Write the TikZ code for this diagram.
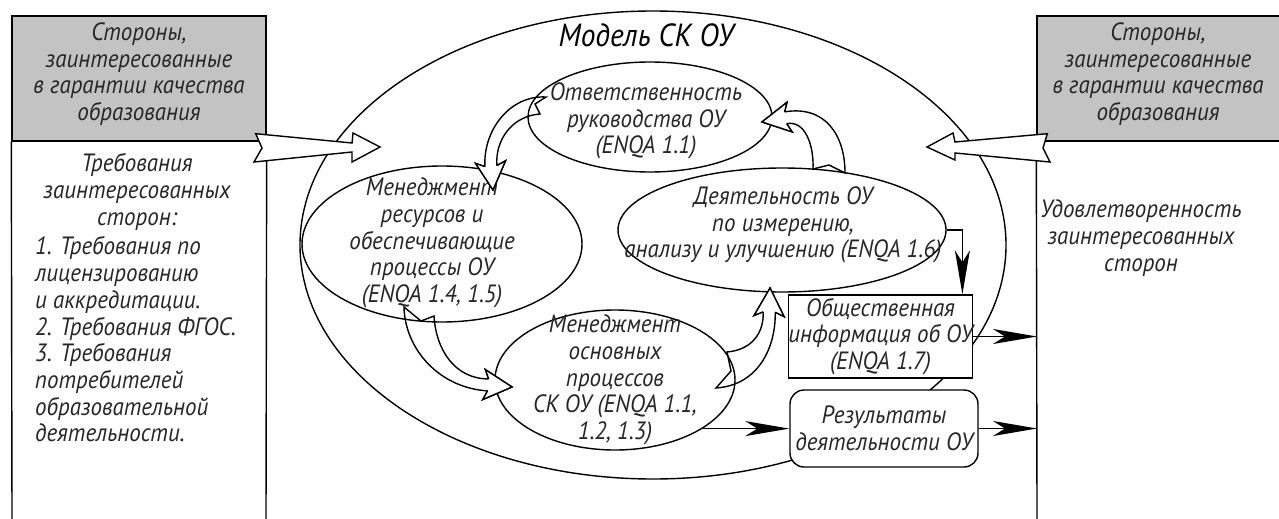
\documentclass[tikz,border=0pt]{standalone}
\usepackage{fontspec}
\setmainfont{PT Sans}[FakeStretch=0.92]
\usetikzlibrary{shapes.geometric,arrows.meta,calc}
\definecolor{boxgray}{RGB}{195,195,195}
\pgfdeclarelayer{bottom}
\pgfdeclarelayer{mid}
\pgfdeclarelayer{top}
\pgfsetlayers{bottom,mid,main,top}
\begin{document}
\begin{tikzpicture}[x=1pt,y=-1pt,
  ln/.style={line width=1.4pt},
  txt/.style={font=\fontsize{25}{26.7}\selectfont\itshape, align=center, inner sep=0pt, text=black!85},
  gbox/.style={ln, draw, fill=boxgray, inner sep=0pt},
  ell/.style={ln, draw, ellipse, inner sep=0pt},
  rbox/.style={ln, draw, fill=white, inner sep=0pt, txt},
  hollow/.style={ln, draw, fill=white, line join=miter},
  hl/.style={ln, line join=miter},
  conn/.style={ln, -{Stealth[length=44pt,width=15pt,inset=12pt]}}]
\useasboundingbox (0,0) rectangle (1279,519);

\begin{pgfonlayer}{bottom}
  % left and right boxes
  \node[gbox, minimum width=254pt, minimum height=125pt] (lg) at (139,78.5) {};
  \node[txt] (lgt) at (139,74) {Стороны,\\заинтересованные\\в гарантии качества\\образования};
  \coordinate (lbl) at (12,519);
  \coordinate (lbr) at (266,519);
  \draw[ln] (lg.south west) -- (lbl);
  \draw[ln] (lg.south east) -- (lbr);
  \node[gbox, minimum width=250pt, minimum height=125pt] (rg) at (1162,78.5) {};
  \node[txt] (rgt) at (1158,74) {Стороны,\\заинтересованные\\в гарантии качества\\образования};
  \coordinate (rbl) at (1037,519);
  \draw[ln] (rg.south west) -- (rbl);
  % big ellipse
  \node[ell, minimum width=706pt, minimum height=468pt] (big) at (653,245) {};
\end{pgfonlayer}

% texts in white areas
\node[txt] (lreq) at (137,192) {Требования\\заинтересованных\\сторон:};
\node[txt, align=left, anchor=west] (llist) at (35,339.5) {1. Требования по\\лицензированию\\и аккредитации.\\2. Требования ФГОС.\\3. Требования\\потребителей\\образовательной\\деятельности.};
\node[txt] (rsat) at (1141,238) {Удовлетворенность\\заинтересованных\\сторон};

% title
\node[txt, font=\fontsize{32}{34}\selectfont\itshape, text=black] (title) at (646,35) {Модель СК ОУ};

% inner ellipses
\node[ell, minimum width=244pt, minimum height=110pt] (e1) at (650,117) {};
\node[ell, minimum width=280pt, minimum height=156pt] (e2) at (442,244) {};
\node[ell, minimum width=328pt, minimum height=124pt] (e3) at (782,230) {};
\node[ell, minimum width=240pt, minimum height=140pt] (e4) at (615,380) {};
\node[txt] (t1) at (646,121) {Ответственность\\руководства ОУ\\(ENQA 1.1)};
\node[txt] (t2) at (432,243) {Менеджмент\\ресурсов и\\обеспечивающие\\процессы ОУ\\(ENQA 1.4, 1.5)};
\node[txt] (t3) at (783,225) {Деятельность ОУ\\по измерению,\\анализу и улучшению (ENQA 1.6)};
\node[txt] (t4) at (615,380) {Менеджмент\\основных\\процессов\\СК ОУ (ENQA 1.1,\\1.2, 1.3)};

% boxes
\node[rbox, minimum width=181pt, minimum height=83pt] (b7) at (880.5,336.5) {Общественная\\информация об ОУ\\(ENQA 1.7)};
\node[rbox, rounded corners=14pt, minimum width=188pt, minimum height=77pt] (b8) at (884,428.5) {Результаты\\деятельности ОУ};

% straight hollow arrows
\begin{pgfonlayer}{mid}
  \draw[hollow] (lg.south east) ++(-11,-8) coordinate (la0)
     -- (352,143) -- (353,133) -- (380,147) coordinate (la) -- (352,162) -- (352,152)
     -- (254,162) -- (262,148) -- cycle;
  \draw[hollow] (rg.south west) ++(11,-8) coordinate (ra0)
     -- (955,142) -- (953,133) -- (927,147) coordinate (ra) -- (955,160) -- (955,153)
     -- (1050,162) -- (1043,148) -- cycle;
\end{pgfonlayer}

% curved hollow arrows: head points
\coordinate (Ba) at (490.9,166.1);
\coordinate (a1) at ($(Ba)+(175:6)$);
\coordinate (a2) at ($(Ba)+(265:4)+(175:15)$);
\coordinate (a3) at ($(Ba)+(85:24)$);
\coordinate (a4) at ($(Ba)+(265:4)+(-5:15)$);
\coordinate (a5) at ($(Ba)+(-5:6)$);

\coordinate (Bb) at (785.6,117.8);
\coordinate (b1) at ($(Bb)+(260:6)$);
\coordinate (b2) at ($(Bb)+(350:4)+(260:15)$);
\coordinate (b3) at ($(Bb)+(170:24)$);
\coordinate (b4) at ($(Bb)+(350:4)+(80:15)$);
\coordinate (b5) at ($(Bb)+(80:6)$);

\coordinate (Bc) at (488.1,384.9);
\coordinate (c1) at ($(Bc)+(95:6)$);
\coordinate (c2) at ($(Bc)+(185:4)+(95:15)$);
\coordinate (c3) at ($(Bc)+(5:24)$);
\coordinate (c4) at ($(Bc)+(185:4)+(-85:15)$);
\coordinate (c5) at ($(Bc)+(-85:6)$);

\coordinate (Bd) at (769.2,312);
\coordinate (d1) at ($(Bd)+(2:6)$);
\coordinate (d2) at ($(Bd)+(92:4)+(2:15)$);
\coordinate (d3) at ($(Bd)+(272:24)$);
\coordinate (d4) at ($(Bd)+(92:4)+(182:15)$);
\coordinate (d5) at ($(Bd)+(182:6)$);

\begin{pgfonlayer}{mid}
  % e1 -> e2
  \draw[hollow] (546,97) .. controls (510,95) and (483,130) .. (a1) -- (a2) -- (a3) -- (a4) -- (a5)
     .. controls (495,140) and (512,116) .. (540,114) -- (535,104) -- cycle;
  % e3 -> e1
  \draw[hollow] (845,173) .. controls (845,135) and (825,105) .. (b1) -- (b2) -- (b3) -- (b4) -- (b5)
     .. controls (805,120) and (814,145) .. (813,169) -- (829,165) -- cycle;
  % e2 -> e4
  \draw[hollow] (404,307) .. controls (405,350) and (440,388) .. (c1) -- (c2) -- (c3) -- (c4) -- (c5)
     .. controls (455,379) and (436,350) .. (434,316) -- (421,321) -- cycle;
  % e4 -> e3
  \draw[hollow] (716,388) .. controls (760,385) and (776,345) .. (d1) -- (d2) -- (d3) -- (d4) -- (d5)
     .. controls (764,335) and (750,350) .. (727,352) -- (731,371) -- cycle;
\end{pgfonlayer}

\begin{pgfonlayer}{top}
  \foreach \h in {a,b,c,d}{
    \fill[white] (\h1) -- (\h2) -- (\h3) -- (\h4) -- (\h5) -- cycle;
    \draw[hl] (\h1) -- (\h2) -- (\h3) -- (\h4) -- (\h5);
  }
\end{pgfonlayer}

% connectors
\draw[conn] (e3.east) -| ($(b7.north east)+(-11,0)$);
\draw[conn] (b7.east) -- (b7.east -| rbl);
\draw[conn] (e4.-29) -- (e4.-29 -| b8.west);
\draw[conn] (b8.east) -- (b8.east -| rbl);
\end{tikzpicture}
\end{document}
